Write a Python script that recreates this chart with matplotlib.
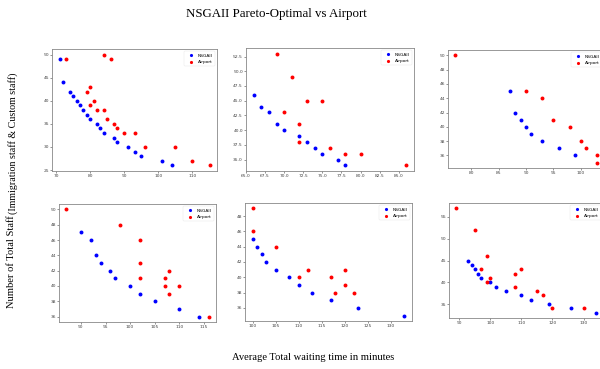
import matplotlib
matplotlib.use("Agg")
import matplotlib.pyplot as plt

# 各子图的数据 (x = 平均总等待时间, y = 总员工数)
nsga1_x = [71, 72, 74, 75, 76, 77, 78, 79, 80, 82, 83, 84, 87, 88, 91, 93, 95, 101, 104]
nsga1_y = [49, 44, 42, 41, 40, 39, 38, 37, 36, 35, 34, 33, 32, 31, 30, 29, 28, 27, 26]
air1_x = [73, 84, 86, 79, 80, 80, 81, 82, 84, 85, 87, 88, 90, 93, 96, 105, 110, 115]
air1_y = [49, 50, 49, 42, 43, 39, 40, 38, 38, 36, 35, 34, 33, 33, 30, 30, 27, 26]

nsga2_x = [66, 67, 68, 69, 70, 72, 73, 74, 75, 77, 78]
nsga2_y = [46, 44, 43, 41, 40, 39, 38, 37, 36, 35, 34]
air2_x = [69, 71, 70, 73, 75, 72, 72, 76, 78, 80, 86]
air2_y = [53, 49, 43, 45, 45, 41, 38, 37, 36, 36, 34]

nsga3_x = [87, 88, 89, 90, 91, 93, 96, 99]
nsga3_y = [45, 42, 41, 40, 39, 38, 37, 36]
air3_x = [77, 90, 93, 95, 98, 100, 101, 103, 103]
air3_y = [50, 45, 44, 41, 40, 38, 37, 36, 35]

nsga4_x = [90, 92, 93, 94, 96, 97, 100, 102, 105, 110, 114]
nsga4_y = [47, 46, 44, 43, 42, 41, 40, 39, 38, 37, 36]
air4_x = [87, 98, 102, 102, 102, 108, 107, 107, 108, 110, 116]
air4_y = [50, 48, 46, 43, 41, 42, 41, 40, 39, 40, 36]

nsga5_x = [100, 101, 102, 103, 105, 108, 110, 113, 117, 123, 133]
nsga5_y = [45, 44, 43, 42, 41, 40, 39, 38, 37, 36, 35]
air5_x = [100, 100, 105, 110, 112, 117, 118, 120, 120, 122]
air5_y = [49, 46, 44, 40, 41, 40, 38, 41, 39, 38]

nsga6_x = [93, 94, 95, 96, 97, 100, 102, 105, 110, 113, 119, 126, 134]
nsga6_y = [45, 44, 43, 42, 41, 40, 39, 38, 37, 36, 35, 34, 33]
air6_x = [89, 95, 99, 97, 100, 99, 108, 110, 108, 115, 117, 120, 130]
air6_y = [57, 52, 46, 43, 41, 40, 42, 43, 39, 38, 37, 34, 34]

panels = [
    (nsga1_x, nsga1_y, air1_x, air1_y),
    (nsga2_x, nsga2_y, air2_x, air2_y),
    (nsga3_x, nsga3_y, air3_x, air3_y),
    (nsga4_x, nsga4_y, air4_x, air4_y),
    (nsga5_x, nsga5_y, air5_x, air5_y),
    (nsga6_x, nsga6_y, air6_x, air6_y),
]

# 子图位置 (像素: 左, 右, 上, 下)
boxes = [
    (52, 217, 49, 171),
    (246, 414, 48, 171),
    (448, 604, 50, 168),
    (59, 216, 204, 322),
    (245, 412, 203, 321),
    (449, 603, 203, 318),
]

W, H = 600, 369
fig = plt.figure(figsize=(6, 3.69), dpi=100)

for (nx, ny, ax_, ay), (l, r, t, b) in zip(panels, boxes):
    ax = fig.add_axes([l / W, 1 - b / H, (r - l) / W, (b - t) / H])
    ax.scatter(nx, ny, s=8, color='blue', label='NSGAII', linewidths=0)
    ax.scatter(ax_, ay, s=8, color='red', label='Airport', linewidths=0)
    ax.tick_params(labelsize=3.2, length=1.2, width=0.4, pad=1, colors='#444444')
    for sp in ax.spines.values():
        sp.set_linewidth(0.6)
        sp.set_color('#888888')
    ax.legend(loc='upper right', fontsize=3.2, markerscale=0.8, handletextpad=0.6,
              borderpad=0.5, labelspacing=0.5, frameon=True, framealpha=0.8,
              edgecolor='#dddddd').get_frame().set_linewidth(0.3)

serif = ['Liberation Serif', 'DejaVu Serif']
fig.text(276 / W, 1 - 14 / H, 'NSGAII Pareto-Optimal vs Airport', ha='center', va='center',
         fontsize=9.3, family=serif)
fig.text(313 / W, 1 - 357 / H, 'Average Total waiting time in minutes', ha='center',
         va='center', fontsize=7.6, family=serif)
fig.text(12 / W, 1 - 308 / H, 'Number of Total Staff', rotation=90, ha='center',
         va='bottom', fontsize=7.6, family=serif)
fig.text(13 / W, 1 - 214 / H, '(Immigration staff & Custom staff)', rotation=90,
         ha='center', va='bottom', fontsize=7.2, family=serif)

fig.savefig('out.png', dpi=100)
